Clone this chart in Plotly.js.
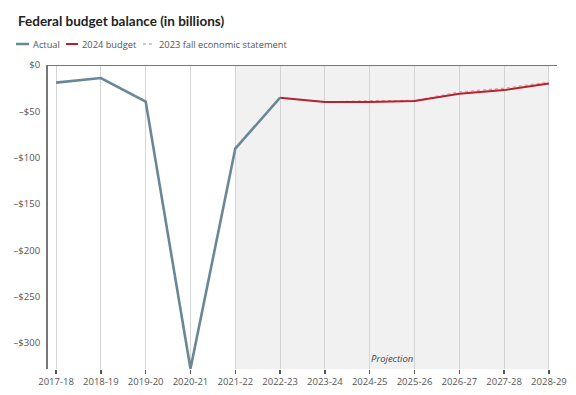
<!DOCTYPE html>
<html>
<head>
<meta charset="utf-8">
<script src="https://cdn.plot.ly/plotly-3.0.1.min.js"></script>
<style>html,body{margin:0;padding:0;background:#fff;}#chart{width:576px;height:395px;}</style>
</head>
<body>
<div id="chart"></div>
<script>
const years = ["2017-18","2018-19","2019-20","2020-21","2021-22","2022-23","2023-24","2024-25","2025-26","2026-27","2027-28","2028-29"];
const actualYears = ["2017-18","2018-19","2019-20","2020-21","2021-22","2022-23"];
const actualValues = [-19.0, -14.0, -39.4, -327.7, -90.2, -35.3];
const budgetYears = ["2022-23","2023-24","2024-25","2025-26","2026-27","2027-28","2028-29"];
const budgetValues = [-35.3, -40.0, -39.8, -38.9, -30.9, -27.1, -20.0];
const fesYears = ["2022-23","2023-24","2024-25","2025-26","2026-27","2027-28","2028-29"];
const fesValues = [-35.3, -40.0, -38.4, -38.3, -29.0, -25.1, -18.4];
const yTickVals = [0, -50, -100, -150, -200, -250, -300];
const yTickText = ["$0", "\u2013$50", "\u2013$100", "\u2013$150", "\u2013$200", "\u2013$250", "\u2013$300"];

const FONT = "Open Sans, Noto Sans, sans-serif";
const L = 48, R = 557, T = 65, B = 369;
const px = x => (x - L) / (R - L);
const py = y => (B - y) / (B - T);

const traces = [
  {x: fesYears, y: fesValues, type: "scatter", mode: "lines", name: "2023 fall economic statement",
   line: {color: "#e8a0a4", width: 1.3, dash: "dot"}, hoverinfo: "skip"},
  {x: budgetYears, y: budgetValues, type: "scatter", mode: "lines", name: "2024 budget",
   line: {color: "#b5232f", width: 2}},
  {x: actualYears, y: actualValues, type: "scatter", mode: "lines", name: "Actual",
   line: {color: "#6a8797", width: 2.6}}
];

const legendItems = [
  {x0: 16, x1: 29, text: "Actual", tx: 31, color: "#6a8797", dash: "solid", w: 2.5},
  {x0: 66, x1: 78, text: "2024 budget", tx: 80, color: "#b5232f", dash: "solid", w: 2},
  {x0: 143, x1: 155, text: "2023 fall economic statement", tx: 157, color: "#999999", dash: "dot", w: 1}
];

const shapes = [
  {type: "rect", xref: "x", yref: "paper", x0: 4, x1: 11, y0: 0, y1: 1,
   fillcolor: "#f1f1f1", line: {width: 0}, layer: "below"}
];
const annotations = [
  {xref: "paper", yref: "paper", x: px(16), y: py(21), xanchor: "left", yanchor: "middle",
   text: "<b>Federal budget balance (in billions)</b>", showarrow: false,
   font: {family: "Lato, Open Sans, sans-serif", size: 13.5, color: "#222"}},
  {xref: "x", yref: "paper", x: 7.5, y: py(358), xanchor: "center", yanchor: "middle",
   text: "<i>Projection</i>", showarrow: false, font: {family: FONT, size: 9.5, color: "#444"}}
];
legendItems.forEach(it => {
  shapes.push({type: "line", xref: "paper", yref: "paper", x0: px(it.x0), x1: px(it.x1),
    y0: py(44), y1: py(44), line: {color: it.color, width: it.w, dash: it.dash}});
  annotations.push({xref: "paper", yref: "paper", x: px(it.tx), y: py(44), xanchor: "left", yanchor: "middle",
    text: it.text, showarrow: false, font: {family: FONT, size: 9.3, color: "#555"}});
});

const layout = {
  width: 576, height: 395,
  margin: {l: L, r: 576 - R, t: T, b: 395 - B, pad: 0},
  paper_bgcolor: "#fff", plot_bgcolor: "rgba(0,0,0,0)",
  showlegend: false,
  font: {family: FONT, size: 9.5, color: "#555"},
  xaxis: {
    type: "category", categoryorder: "array", categoryarray: years,
    range: [-0.18, 11.18], showgrid: true, gridcolor: "#d4d4d4", gridwidth: 1,
    showline: false, zeroline: false, ticks: "outside", ticklen: 4, tickwidth: 1.3, tickcolor: "#555",
    tickfont: {family: FONT, size: 9.5, color: "#555"}, fixedrange: true
  },
  yaxis: {
    range: [-328, 0], tickvals: yTickVals, ticktext: yTickText, showgrid: false,
    zeroline: false, showline: true, linecolor: "#777", linewidth: 2, ticks: "", ticklabelstandoff: 4,
    tickfont: {family: FONT, size: 9.5, color: "#555"}, fixedrange: true
  },
  shapes: shapes.concat([
    {type: "line", xref: "paper", yref: "y", x0: 0, x1: 1, y0: 0, y1: 0, line: {color: "#777", width: 2}}
  ]),
  annotations: annotations
};

Plotly.newPlot("chart", traces, layout, {displayModeBar: false, staticPlot: true});
</script>
</body>
</html>
